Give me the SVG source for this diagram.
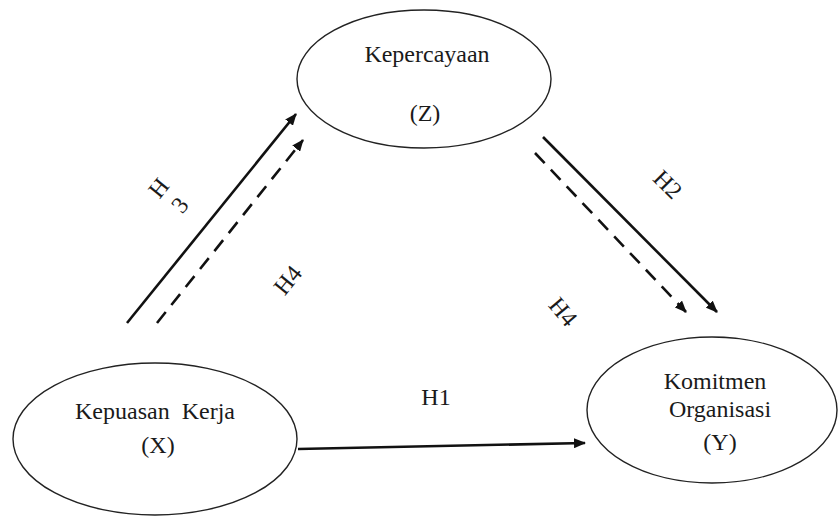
<svg xmlns="http://www.w3.org/2000/svg" width="839" height="516" viewBox="0 0 839 516">
<style>
.node ellipse{fill:#fff;stroke:#222;stroke-width:1.4}
text{font-family:"Liberation Serif","Times New Roman",serif;font-size:24px;fill:#1a1a1a}
.c{text-anchor:middle}
.solid{stroke:#111;stroke-width:2.6;fill:none}
.dash{stroke:#111;stroke-width:2.6;fill:none;stroke-dasharray:14 9}
</style>
<defs>
<marker id="ah" viewBox="0 0 12 10" refX="11" refY="5" markerWidth="12" markerHeight="10" markerUnits="userSpaceOnUse" orient="auto">
<path d="M0,0 L12,5 L0,10 Z" fill="#111"/>
</marker>
</defs>
<rect width="839" height="516" fill="#fff"/>
<g id="connectors">
<line class="solid" x1="127" y1="323" x2="296" y2="114" marker-end="url(#ah)"/>
<line class="dash" x1="157" y1="323" x2="303" y2="140" marker-end="url(#ah)"/>
<line class="solid" x1="543" y1="137" x2="717" y2="312" marker-end="url(#ah)"/>
<line class="dash" x1="535" y1="153" x2="686" y2="312" marker-end="url(#ah)"/>
<line class="solid" x1="298" y1="449" x2="585" y2="443" marker-end="url(#ah)"/>
</g>
<g id="labels">
<text class="c" transform="translate(165,193) rotate(-51)">H</text>
<text class="c" transform="translate(186,210) rotate(-51)">3</text>
<text class="c" transform="translate(294,285) rotate(-51)">H4</text>
<text class="c" transform="translate(662,190) rotate(45)">H2</text>
<text class="c" transform="translate(557,317) rotate(50)">H4</text>
<text class="c" x="436" y="405">H1</text>
</g>
<g id="node-z" class="node">
<ellipse cx="424" cy="79" rx="127" ry="69"/>
<text class="c" x="427" y="62">Kepercayaan</text>
<text class="c" x="425" y="121">(Z)</text>
</g>
<g id="node-x" class="node">
<ellipse cx="155" cy="439" rx="142" ry="76"/>
<text class="c" x="155" y="419">Kepuasan&#160; Kerja</text>
<text class="c" x="158" y="453">(X)</text>
</g>
<g id="node-y" class="node">
<ellipse cx="712" cy="410" rx="125" ry="73"/>
<text class="c" x="715" y="389">Komitmen</text>
<text class="c" x="720" y="417">Organisasi</text>
<text class="c" x="720" y="450">(Y)</text>
</g>
</svg>
